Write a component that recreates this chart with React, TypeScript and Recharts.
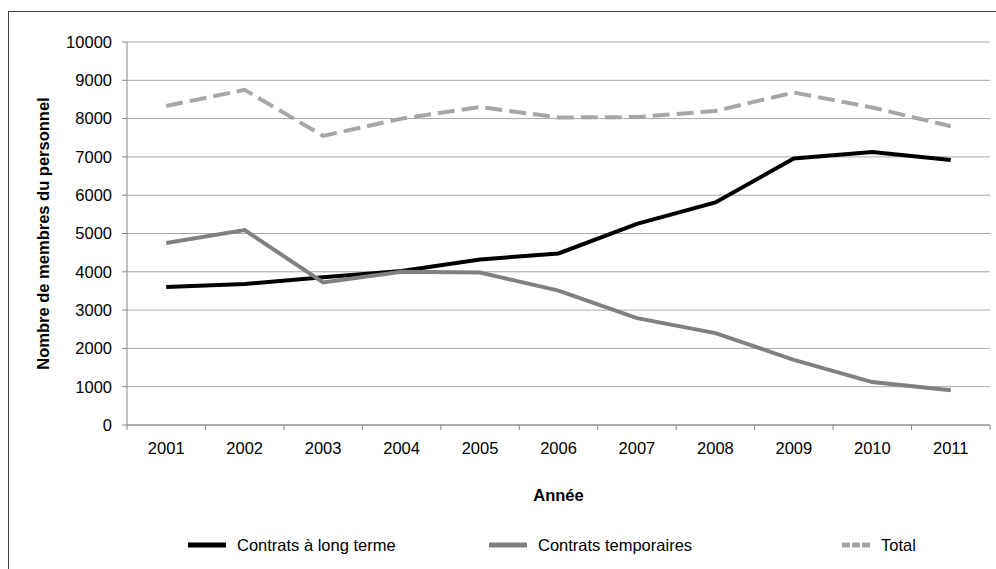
import React from 'react';
import { LineChart, Line, XAxis, YAxis, CartesianGrid, Legend } from 'recharts';

// Effectifs par année
const years = ['2001', '2002', '2003', '2004', '2005', '2006', '2007', '2008', '2009', '2010', '2011'];
const longTerm = [3600, 3680, 3860, 4020, 4320, 4480, 5250, 5810, 6960, 7130, 6920];
const temporary = [4750, 5090, 3720, 4000, 3980, 3510, 2790, 2400, 1700, 1120, 910];
const total = [8330, 8750, 7550, 8000, 8300, 8030, 8040, 8200, 8680, 8290, 7800];
const yTicks = [0, 1000, 2000, 3000, 4000, 5000, 6000, 7000, 8000, 9000, 10000];

const data = years.map((year, i) => ({
  year,
  longTerm: longTerm[i],
  temporary: temporary[i],
  total: total[i],
}));

const FONT = '"Liberation Sans", Arial, sans-serif';
const TICK_SIZE = 5;
const TICK_MARGIN = 12;

// libellé de l'année + petite graduation entre les catégories (style Excel)
const YearTick = (props: any) => {
  const { x, y, payload, index, visibleTicksCount } = props;
  const half = payload.offset || 0;
  const axisY = y - TICK_SIZE - TICK_MARGIN;
  const isLast = index === visibleTicksCount - 1;
  return (
    <g>
      <line x1={x - half} y1={axisY} x2={x - half} y2={axisY + TICK_SIZE} stroke="#868686" />
      {isLast && <line x1={x + half} y1={axisY} x2={x + half} y2={axisY + TICK_SIZE} stroke="#868686" />}
      <text x={x} y={y} dy="0.71em" textAnchor="middle" fontFamily={FONT} fontSize={16.5} fill="#000">
        {payload.value}
      </text>
    </g>
  );
};

const YTitle = (props: any) => {
  const { viewBox } = props;
  const cx = viewBox.x + 43;
  const cy = viewBox.y + viewBox.height / 2;
  return (
    <text
      x={cx}
      y={cy}
      transform={`rotate(-90 ${cx} ${cy})`}
      textAnchor="middle"
      dominantBaseline="central"
      fontFamily={FONT}
      fontSize={16.5}
      fontWeight="bold"
      fill="#000"
    >
      Nombre de membres du personnel
    </text>
  );
};

const XTitle = (props: any) => {
  const { viewBox } = props;
  return (
    <text
      x={viewBox.x + viewBox.width / 2}
      y={viewBox.y + 70}
      textAnchor="middle"
      dominantBaseline="central"
      fontFamily={FONT}
      fontSize={16.5}
      fontWeight="bold"
      fill="#000"
    >
      Année
    </text>
  );
};

const legendItems = [
  { label: 'Contrats à long terme', color: '#000000', dashed: false, left: 188, width: 38 },
  { label: 'Contrats temporaires', color: '#808080', dashed: false, left: 489, width: 38 },
  { label: 'Total', color: '#a6a6a6', dashed: true, left: 842, width: 28 },
];

const LegendContent = () => (
  <div style={{ position: 'relative', width: 996, height: 40, fontFamily: FONT, fontSize: 16.5 }}>
    {legendItems.map((item) => (
      <div
        key={item.label}
        style={{ position: 'absolute', left: item.left, top: 6, display: 'flex', alignItems: 'center', height: 20 }}
      >
        <svg width={item.width} height={6}>
          <line
            x1={0}
            y1={3}
            x2={item.width}
            y2={3}
            stroke={item.color}
            strokeWidth={5}
            strokeDasharray={item.dashed ? '8 2' : undefined}
          />
        </svg>
        <span style={{ marginLeft: 11, color: '#000' }}>{item.label}</span>
      </div>
    ))}
  </div>
);

export default function App() {
  return (
    <div style={{ position: 'absolute', left: 0, top: 0, width: 996, height: 569, overflow: 'hidden', background: '#fff' }}>
      <div
        style={{
          position: 'absolute',
          left: 8,
          top: 11,
          width: 1100,
          height: 700,
          border: '1px solid #404040',
        }}
      />
      <LineChart width={996} height={569} data={data} margin={{ top: 42, right: 6, left: 0, bottom: 0 }}>
        <CartesianGrid vertical={false} stroke="#a6a6a6" />
        <XAxis
          dataKey="year"
          scale="band"
          height={104}
          stroke="#868686"
          tickLine={false}
          tickSize={TICK_SIZE}
          tickMargin={TICK_MARGIN}
          interval={0}
          tick={<YearTick />}
          label={{ content: <XTitle /> }}
        />
        <YAxis
          width={127}
          domain={[0, 10000]}
          ticks={yTicks}
          interval={0}
          tickSize={TICK_SIZE}
          tickMargin={10}
          stroke="#868686"
          tick={{ fill: '#000', fontFamily: FONT, fontSize: 16.5 }}
          label={{ content: <YTitle /> }}
        />
        <Legend verticalAlign="bottom" height={40} content={<LegendContent />} />
        <Line
          dataKey="longTerm"
          name="Contrats à long terme"
          stroke="#000000"
          strokeWidth={4}
          dot={false}
          isAnimationActive={false}
        />
        <Line
          dataKey="temporary"
          name="Contrats temporaires"
          stroke="#808080"
          strokeWidth={4}
          dot={false}
          isAnimationActive={false}
        />
        <Line
          dataKey="total"
          name="Total"
          stroke="#a6a6a6"
          strokeWidth={4}
          strokeDasharray="17 7"
          dot={false}
          isAnimationActive={false}
        />
      </LineChart>
    </div>
  );
}
